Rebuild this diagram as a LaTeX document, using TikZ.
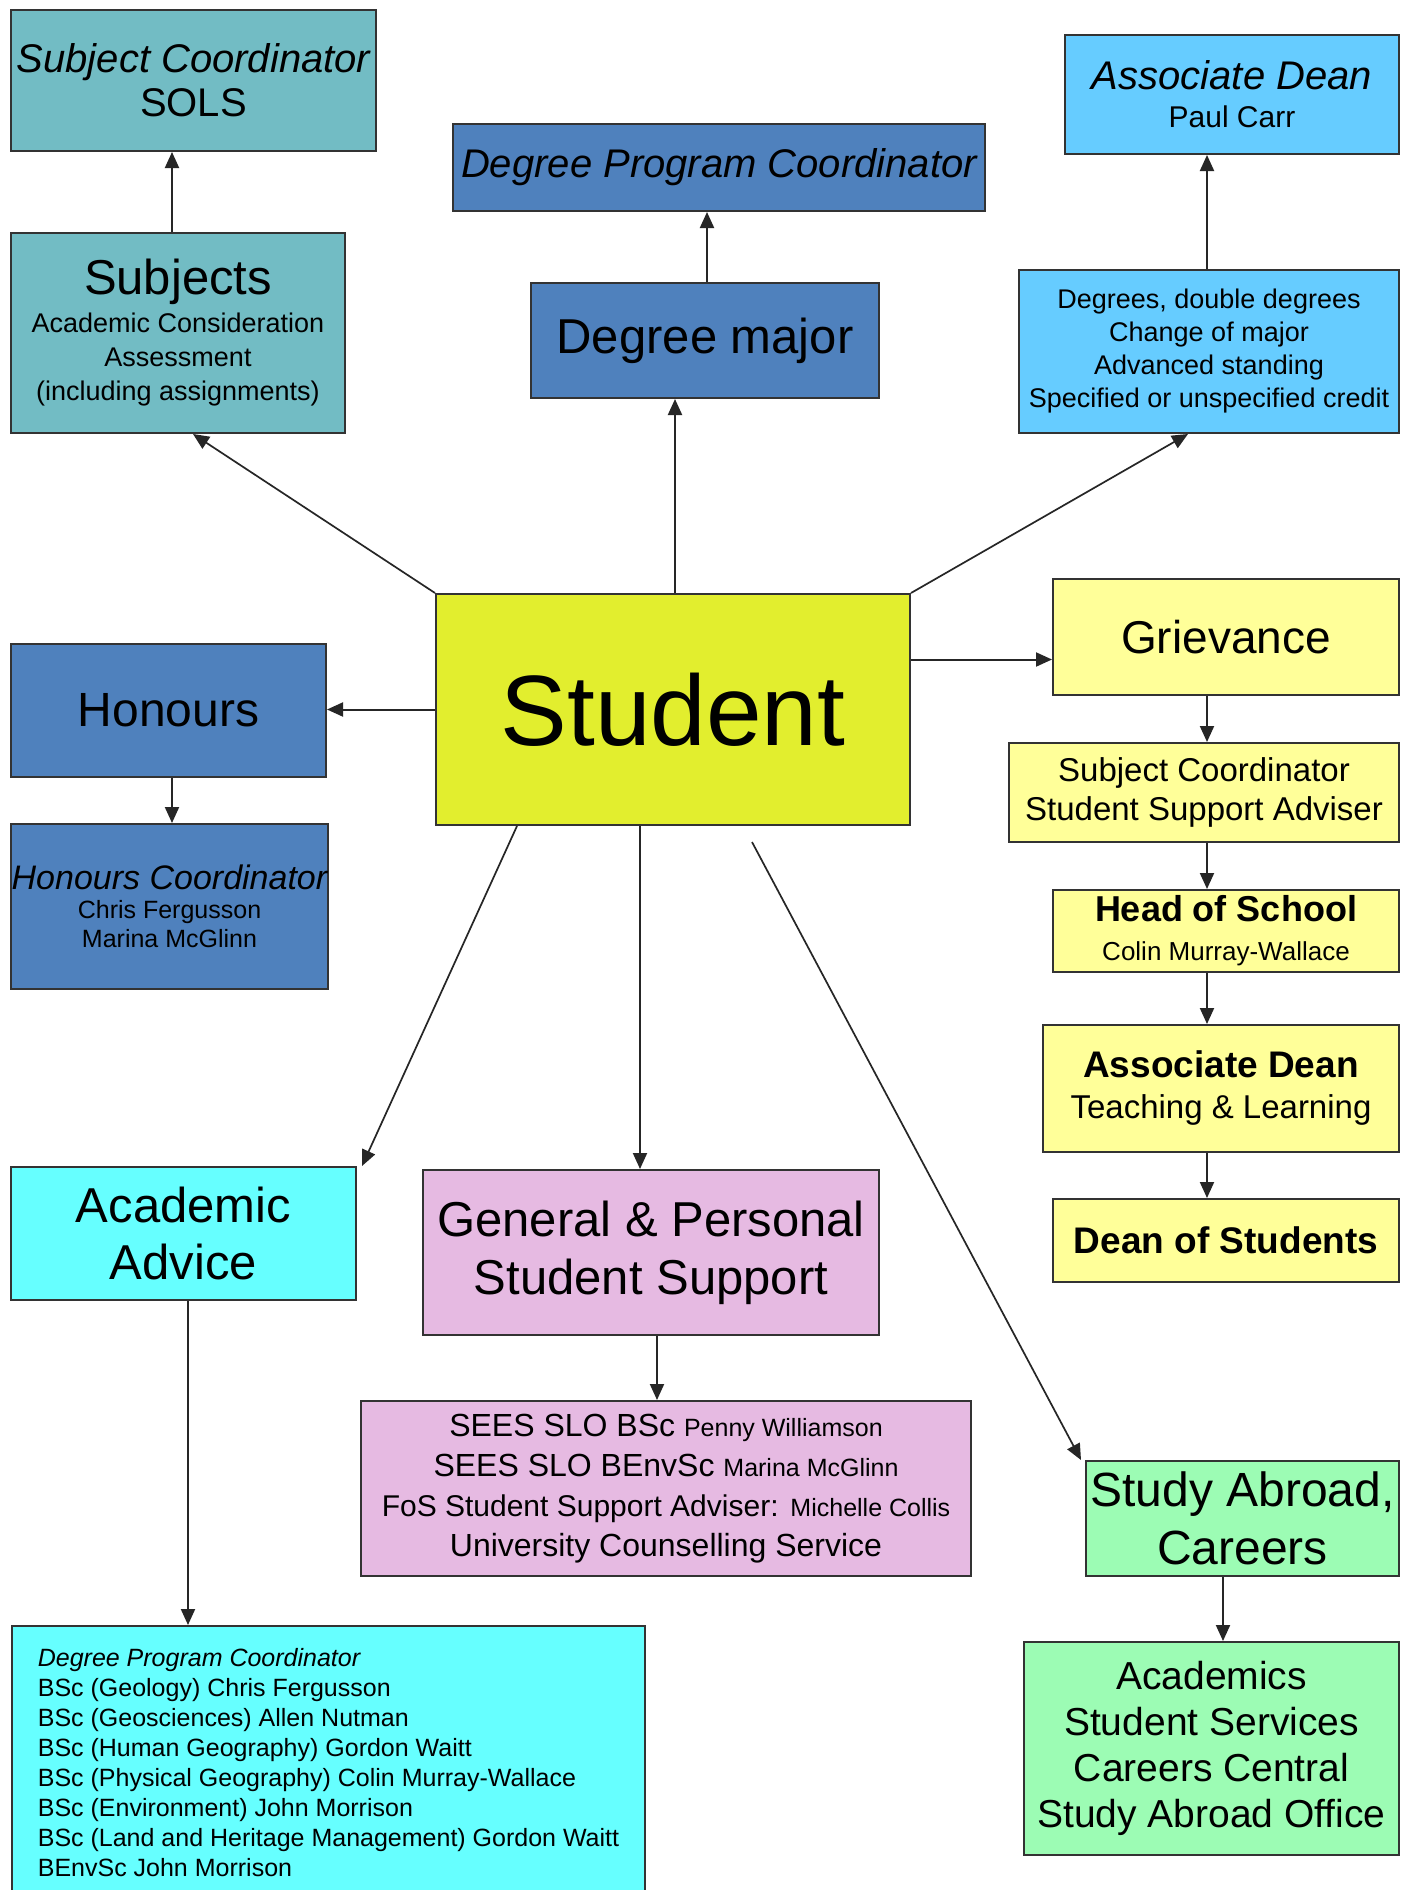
\documentclass[tikz,border=0pt]{standalone}
\usepackage{fontspec}
\setmainfont{Liberation Sans}
\usetikzlibrary{arrows.meta,calc}
\definecolor{tealA}{RGB}{114,188,196}
\definecolor{steelA}{RGB}{79,129,189}
\definecolor{skyA}{RGB}{102,204,255}
\definecolor{studA}{RGB}{226,238,46}
\definecolor{lyelA}{RGB}{255,255,153}
\definecolor{cyanA}{RGB}{102,255,255}
\definecolor{pinkA}{RGB}{230,186,226}
\definecolor{mintA}{RGB}{156,252,180}
\newcommand\fs[2]{\fontsize{#1}{#2}\selectfont}
\begin{document}
\begin{tikzpicture}[x=1pt,y=-1pt,
  box/.style={draw=black!80, line width=2pt, inner sep=0pt, align=center, text=black},
  conn/.style={line width=2pt, draw=black!85, -{Triangle[length=16pt,width=14pt]}},
  dconn/.style={line width=1.7pt, draw=black!85, -{Triangle[length=16pt,width=14pt]}}]
\useasboundingbox (0,0) rectangle (1412,1890);
\fill[white] (0,0) rectangle (1412,1890);
\clip (0,0) rectangle (1412,1890);

% nodes
\node[box,fill=tealA,minimum width=365pt,minimum height=141pt,font=\fs{40}{44}] (sc) at (193.5,80.5)
  {{\itshape Subject Coordinator}\\SOLS};
\node[box,fill=tealA,minimum width=334pt,minimum height=200pt,font=\fs{27}{34}] (subj) at (178,333)
  {{\fs{49}{52}Subjects}\\[4pt]Academic Consideration\\Assessment\\(including assignments)};
\node[box,fill=steelA,minimum width=532pt,minimum height=87pt,font=\fs{40}{44}\itshape] (dpc) at (719,167.5)
  {Degree Program Coordinator};
\node[box,fill=steelA,minimum width=348pt,minimum height=115pt,font=\fs{49}{56}] (dmaj) at (705,340.5)
  {Degree major};
\node[box,fill=skyA,minimum width=334pt,minimum height=119pt,font=\fs{30}{38}] (ad) at (1232,94.5)
  {{\fs{40}{44}\itshape Associate Dean}\\Paul Carr};
\node[box,fill=skyA,minimum width=380pt,minimum height=163pt,font=\fs{27}{33}] (deg) at (1209,351.5)
  {Degrees, double degrees\\Change of major\\Advanced standing\\Specified or unspecified credit};
\node[box,fill=studA,minimum width=474pt,minimum height=231pt,font=\fs{100}{110}] (student) at (673,709.5)
  {Student};
\node[box,fill=steelA,minimum width=315pt,minimum height=133pt,font=\fs{48}{56}] (hon) at (168.5,710.5)
  {Honours};
\node[box,fill=steelA,minimum width=317pt,minimum height=165pt,font=\fs{25}{29}] (honc) at (169.5,906.5)
  {{\fs{34}{38}\itshape Honours Coordinator}\\Chris Fergusson\\Marina McGlinn};
\node[box,fill=lyelA,minimum width=346pt,minimum height=116pt,font=\fs{46}{52}] (griev) at (1226,637)
  {Grievance};
\node[box,fill=lyelA,minimum width=390pt,minimum height=99pt,font=\fs{33}{39}] (scssa) at (1204,792.5)
  {Subject Coordinator\\Student Support Adviser};
\node[box,fill=lyelA,minimum width=346pt,minimum height=82pt,font=\fs{26}{39}] (hos) at (1226,931)
  {{\fs{36}{40}\bfseries Head of School}\\Colin Murray-Wallace};
\node[box,fill=lyelA,minimum width=356pt,minimum height=127pt,font=\fs{33}{41}] (adtl) at (1221,1088.5)
  {{\fs{37}{42}\bfseries Associate Dean}\\Teaching \& Learning};
\node[box,fill=lyelA,minimum width=346pt,minimum height=83pt,font=\fs{37}{42}\bfseries] (dos) at (1226,1240.5)
  {Dean of Students};
\node[box,fill=cyanA,minimum width=345pt,minimum height=133pt,font=\fs{49}{57}] (aa) at (183.5,1233.5)
  {Academic\\Advice};
\node[box,fill=pinkA,minimum width=456pt,minimum height=165pt,font=\fs{49}{58}] (gps) at (651,1252.5)
  {General \& Personal\\Student Support};
\node[box,fill=pinkA,minimum width=610pt,minimum height=175pt,font=\fs{32}{40}] (sees) at (666,1488.5)
  {SEES SLO BSc {\fs{25}{30}Penny Williamson}\\SEES SLO BEnvSc {\fs{25}{30}Marina McGlinn}\\{\fs{30}{40}FoS Student Support Adviser:} {\fs{25}{30}Michelle Collis}\\University Counselling Service};
\node[box,fill=mintA,minimum width=313pt,minimum height=115pt,font=\fs{48}{58}] (sab) at (1242.5,1518.5)
  {Study Abroad,\\Careers};
\node[box,fill=mintA,minimum width=375pt,minimum height=213pt,font=\fs{39}{46}] (acad) at (1211.5,1748.5)
  {Academics\\Student Services\\Careers Central\\Study Abroad Office};
\node[box,fill=cyanA,anchor=north west,minimum width=633pt,inner xsep=22pt,inner ysep=22pt,align=left,font=\fs{25}{30}] (dlist) at (11,1625)
  {{\itshape Degree Program Coordinator}\\BSc (Geology) Chris Fergusson\\BSc (Geosciences) Allen Nutman\\BSc (Human Geography) Gordon Waitt\\BSc (Physical Geography) Colin Murray-Wallace\\BSc (Environment) John Morrison\\BSc (Land and Heritage Management) Gordon Waitt\\BEnvSc John Morrison};

% connectors
\coordinate (a1) at ([xshift=-6pt]subj.north);
\draw[conn] (a1) -- (a1 |- sc.south);
\draw[dconn] (student.north west) -- ([xshift=15pt]subj.south);
\coordinate (a2) at ([xshift=2pt]student.north);
\draw[conn] (a2) -- (a2 |- dmaj.south);
\coordinate (a3) at ([xshift=2pt]dmaj.north);
\draw[conn] (a3) -- (a3 |- dpc.south);
\draw[dconn] (student.north east) -- ([xshift=-21pt]deg.south);
\coordinate (a4) at ([xshift=-2pt]deg.north);
\draw[conn] (a4) -- (a4 |- ad.south);
\draw[conn] (student.west) -- (student.west -| hon.east);
\coordinate (a5) at ([xshift=3.5pt]hon.south);
\draw[conn] (a5) -- (a5 |- honc.north);
\coordinate (a6) at ([yshift=50pt]student.east);
\draw[conn] (a6) -- (a6 -| griev.west);
\coordinate (cx) at (1207,0);
\draw[conn] (griev.south -| cx) -- (scssa.north -| cx);
\draw[conn] (scssa.south -| cx) -- (hos.north -| cx);
\draw[conn] (hos.south -| cx) -- (adtl.north -| cx);
\draw[conn] (adtl.south -| cx) -- (dos.north -| cx);
\draw[dconn] ([xshift=82pt]student.south west) -- ([xshift=5pt]aa.north east);
\coordinate (a7) at ([xshift=-33pt]student.south);
\draw[conn] (a7) -- (a7 |- gps.north);
\coordinate (a8) at ([xshift=6pt]gps.south);
\draw[conn] (a8) -- (a8 |- sees.north);
\coordinate (sabstart) at (752,842);
\draw[dconn] (sabstart) -- ([xshift=-4pt]sab.north west);
\coordinate (a9) at ([xshift=4.5pt]aa.south);
\draw[conn] (a9) -- (a9 |- dlist.north);
\coordinate (a10) at ([xshift=-19.5pt]sab.south);
\draw[conn] (a10) -- (a10 |- acad.north);
\end{tikzpicture}
\end{document}
